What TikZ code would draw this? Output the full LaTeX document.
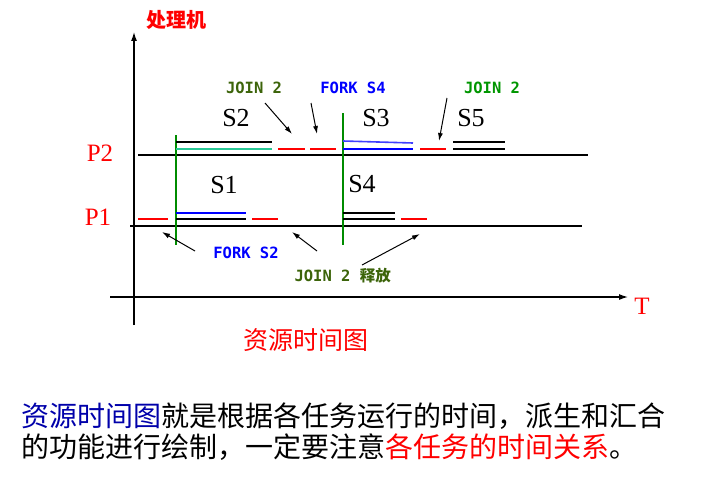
\documentclass[tikz,border=0pt]{standalone}
\usepackage{fontspec}
\newfontfamily\cjk{Noto Sans CJK SC}
\newfontfamily\pixfont{DejaVu Sans Mono}
\newfontfamily\serifnum{Liberation Serif}
\usetikzlibrary{arrows.meta}
\definecolor{olivegreen}{RGB}{60,100,10}
\definecolor{brightgreen}{RGB}{0,150,0}
\definecolor{barmint}{RGB}{40,200,150}
\definecolor{titleblue}{RGB}{0,0,170}

\begin{document}
\begin{tikzpicture}[x=1pt,y=-1pt,
    slbl/.style={font=\serifnum\fontsize{26}{26}\selectfont},
    plbl/.style={red, font=\serifnum\fontsize{25}{25}\selectfont},
    tag/.style={font=\pixfont\bfseries\fontsize{15.5}{15.5}\selectfont},
    note/.style={-{Latex[length=8pt,width=5pt]}, line width=1pt},
    idle/.style={draw=red, line width=1.6pt},
    bar/.style={line width=1.6pt}]
\useasboundingbox (0,0) rectangle (701,487);

% axes
\draw[-{Latex[length=9pt,width=6pt]}, line width=1.2pt] (134,325) -- (134,32);
\draw[-{Latex[length=9pt,width=6pt]}, line width=1.2pt] (110,297) -- (628,297);
\node[red, font=\cjk\bfseries\fontsize{20}{20}\selectfont] (proc) at (176,20) {处理机};
\node[red, font=\serifnum\fontsize{25}{25}\selectfont] (tlbl) at (642,306) {T};

% processors
\draw[line width=1.2pt] (138,155) -- (588,155);
\draw[line width=1.2pt] (130,226) -- (582,226);
\node[plbl] (p2) at (100,153) {P2};
\node[plbl] (p1) at (98,217) {P1};

% fork / join instants
\draw[green!55!black, line width=1.3pt] (176,135) -- (176,245);
\draw[green!55!black, line width=1.3pt] (343,113) -- (343,245);

% P2
\draw[bar, draw=black] (176,142) -- (272,142);
\draw[bar, draw=barmint] (176,149) -- (272,149);
\draw[idle] (278,149) -- (305,149);
\draw[idle] (310,149) -- (336,149);
\draw[bar, draw=blue!75] (343,141) -- (413,143);
\draw[bar, draw=blue] (343,149) -- (413,149);
\draw[idle] (420,149) -- (446,149);
\draw[bar, draw=black] (453,142) -- (505,142);
\draw[bar, draw=black] (453,149) -- (505,149);

% P1
\draw[idle] (138,219) -- (168,219);
\draw[bar, draw=blue] (176,213) -- (246,213);
\draw[bar, draw=black] (176,219) -- (246,219);
\draw[idle] (252,219) -- (278,219);
\draw[bar, draw=black] (343,213) -- (395,213);
\draw[bar, draw=black] (343,219) -- (395,219);
\draw[idle] (401,219) -- (427,219);

% task names
\node[slbl] (s2) at (236,118) {S2};
\node[slbl] (s3) at (376,118) {S3};
\node[slbl] (s5) at (471,118) {S5};
\node[slbl] (s1) at (224,185) {S1};
\node[slbl] (s4) at (362,184) {S4};

% notes
\node[tag, olivegreen] (join1) at (254,88) {JOIN 2};
\node[tag, blue] (fork4) at (353,88) {FORK S4};
\node[tag, brightgreen] (join2) at (492,88) {JOIN 2};
\node[tag, blue] (fork2) at (246,253) {FORK S2};
\node[tag, olivegreen, anchor=west] (rel) at (291,276) {JOIN 2 {\cjk\bfseries 释放}};

\coordinate (a1) at (265,103); \coordinate (b1) at (292,134);
\coordinate (a2) at (311,103); \coordinate (b2) at (317,134);
\coordinate (a3) at (447,98);  \coordinate (b3) at (439,141);
\coordinate (a4) at (195,251); \coordinate (b4) at (162,232);
\coordinate (a5) at (317,251); \coordinate (b5) at (292,232);
\coordinate (a6) at (362,265); \coordinate (b6) at (420,234);
\draw[note] (a1) -- (b1);
\draw[note] (a2) -- (b2);
\draw[note] (a3) -- (b3);
\draw[note] (a4) -- (b4);
\draw[note] (a5) -- (b5);
\draw[note] (a6) -- (b6);

\node[red, font=\cjk\fontsize{25}{25}\selectfont] (cap) at (306,340) {资源时间图};

\node[anchor=west, inner sep=0pt, font=\cjk\fontsize{28}{28}\selectfont] (txt1) at (21,416)
  {{\color{titleblue}资源时间图}就是根据各任务运行的时间，派生和汇合};
\node[anchor=west, inner sep=0pt, font=\cjk\fontsize{28}{28}\selectfont] (txt2) at (21,447)
  {的功能进行绘制，一定要注意{\color{red}各任务的时间关系}。};
\end{tikzpicture}
\end{document}
